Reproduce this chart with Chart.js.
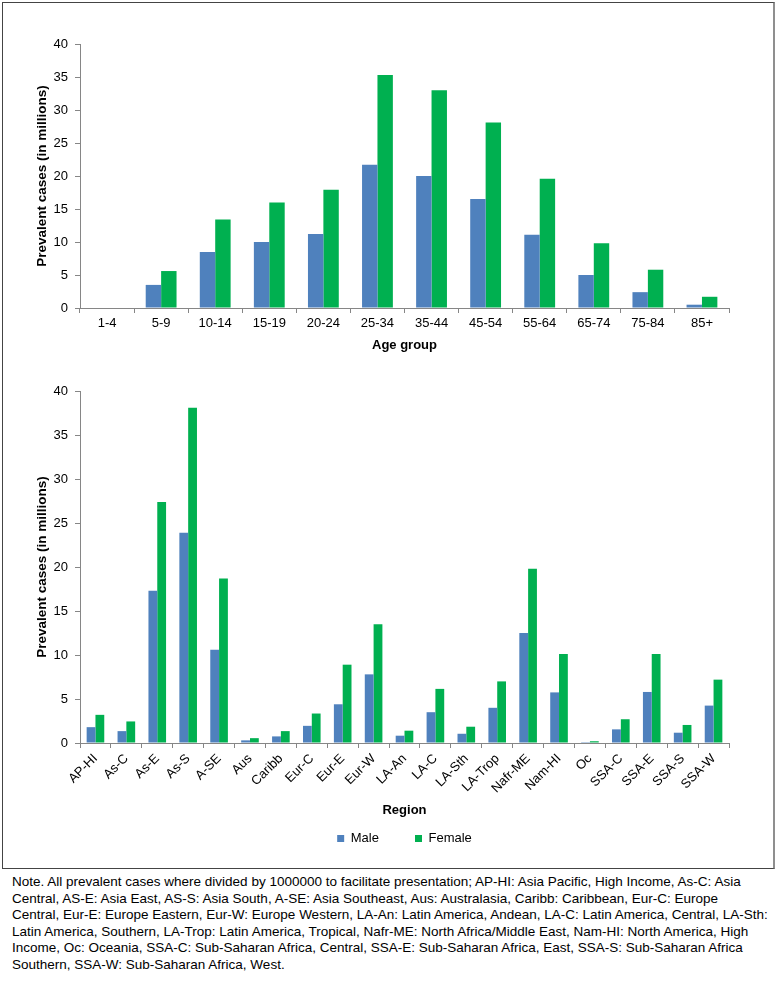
<!DOCTYPE html>
<html>
<head>
<meta charset="utf-8">
<script src="https://cdn.jsdelivr.net/npm/chart.js@4.4.0/dist/chart.umd.min.js"></script>
<style>
  body { margin: 0; background: #fff; width: 778px; height: 990px; position: relative; overflow: hidden;
         font-family: "Liberation Sans", Arial, sans-serif; }
  #frame { position: absolute; left: 2px; top: 2px; width: 770px; height: 865px;
           border: 1px solid #444; border-right: 2px solid #8f8f8f; }
  #ageChart { position: absolute; left: 0; top: 0; }
  #regionChart { position: absolute; left: 0; top: 360px; }
  #note { position: absolute; left: 12px; top: 874px; font-size: 13.5px; line-height: 16.6px;
          color: #000; white-space: nowrap; }
</style>
</head>
<body>
<div id="frame"></div>
<canvas id="ageChart" width="778" height="360"></canvas>
<canvas id="regionChart" width="778" height="508"></canvas>
<div id="note">
Note. All prevalent cases where divided by 1000000 to facilitate presentation; AP-HI: Asia Pacific, High Income, As-C: Asia<br>
Central, AS-E: Asia East, AS-S: Asia South, A-SE: Asia Southeast, Aus: Australasia, Caribb: Caribbean, Eur-C: Europe<br>
Central, Eur-E: Europe Eastern, Eur-W: Europe Western, LA-An: Latin America, Andean, LA-C: Latin America, Central, LA-Sth:<br>
Latin America, Southern, LA-Trop: Latin America, Tropical, Nafr-ME: North Africa/Middle East, Nam-HI: North America, High<br>
Income, Oc: Oceania, SSA-C: Sub-Saharan Africa, Central, SSA-E: Sub-Saharan Africa, East, SSA-S: Sub-Saharan Africa<br>
Southern, SSA-W: Sub-Saharan Africa, West.
</div>
<script>
// prevalent cases in millions
const ageGroups = ['1-4', '5-9', '10-14', '15-19', '20-24', '25-34', '35-44', '45-54', '55-64', '65-74', '75-84', '85+'];
const maleAge = [0, 3.5, 8.5, 10.0, 11.2, 21.7, 20.0, 16.5, 11.1, 5.0, 2.4, 0.5];
const femaleAge = [0, 5.6, 13.4, 16.0, 17.9, 35.3, 33.0, 28.1, 19.6, 9.8, 5.8, 1.7];

const regions = ['AP-HI', 'As-C', 'As-E', 'As-S', 'A-SE', 'Aus', 'Caribb', 'Eur-C', 'Eur-E', 'Eur-W', 'LA-An',
  'LA-C', 'LA-Sth', 'LA-Trop', 'Nafr-ME', 'Nam-HI', 'Oc', 'SSA-C', 'SSA-E', 'SSA-S', 'SSA-W'];
const maleRegion = [1.8, 1.35, 17.3, 23.9, 10.6, 0.3, 0.75, 1.95, 4.4, 7.8, 0.83, 3.5, 1.05, 4.0, 12.5, 5.75, 0.1, 1.55, 5.8, 1.17, 4.25];
const femaleRegion = [3.2, 2.45, 27.4, 38.1, 18.7, 0.55, 1.35, 3.35, 8.9, 13.5, 1.4, 6.15, 1.85, 7.0, 19.8, 10.1, 0.2, 2.7, 10.1, 2.05, 7.2];

const yMax = 40, yStep = 5;
const blue = '#4f81bd', green = '#00b050', axisGrey = '#868686';

Chart.defaults.font.family = "'Liberation Sans', Arial, sans-serif";
Chart.defaults.font.size = 13;
Chart.defaults.color = '#000';
Chart.defaults.animation = false;

function fixWidth(w) {
  return scale => { scale.width = w; scale.paddingTop = 0; scale.paddingBottom = 0; };
}
function fixHeight(h) {
  return scale => { scale.height = h; scale.paddingLeft = 0; scale.paddingRight = 0; };
}

function yAxis() {
  return {
    min: 0, max: yMax,
    ticks: { stepSize: yStep, padding: 7 },
    border: { color: axisGrey },
    grid: { drawOnChartArea: false, tickLength: 5, color: axisGrey },
    title: { display: true, text: 'Prevalent cases (in millions)', font: { weight: 'bold', size: 13.5 }, padding: { top: 34, bottom: 0 } },
    afterFit: fixWidth(80)
  };
}

function xAxis(title, height, rotate, titlePad) {
  return {
    ticks: { padding: 3, autoSkip: false, minRotation: rotate, maxRotation: rotate },
    border: { color: axisGrey },
    grid: { drawOnChartArea: false, tickLength: 5, color: axisGrey, offset: true },
    title: { display: true, text: title, font: { weight: 'bold' }, padding: { top: 0, bottom: titlePad } },
    afterFit: fixHeight(height)
  };
}

function bars(male, female) {
  return [
    { label: 'Male', data: male, backgroundColor: blue, borderWidth: 0, categoryPercentage: 0.57, barPercentage: 1 },
    { label: 'Female', data: female, backgroundColor: green, borderWidth: 0, categoryPercentage: 0.57, barPercentage: 1 }
  ];
}

new Chart(document.getElementById('ageChart'), {
  type: 'bar',
  data: { labels: ageGroups, datasets: bars(maleAge, femaleAge) },
  options: {
    responsive: false,
    layout: { padding: { top: 44, left: 0, right: 49, bottom: 0 } },
    plugins: { legend: { display: false }, tooltip: { enabled: false } },
    scales: { x: xAxis('Age group', 52, 0, 7), y: yAxis() }
  }
});

new Chart(document.getElementById('regionChart'), {
  type: 'bar',
  data: { labels: regions, datasets: bars(maleRegion, femaleRegion) },
  options: {
    responsive: false,
    layout: { padding: { top: 31, left: 0, right: 49, bottom: 13 } },
    plugins: {
      tooltip: { enabled: false },
      legend: {
        position: 'bottom',
        fullSize: false,
        labels: {
          boxWidth: 7, boxHeight: 7, padding: 0, color: '#000',
          generateLabels: chart => {
            const items = Chart.defaults.plugins.legend.labels.generateLabels(chart);
            items[0].text += '          ';
            return items;
          }
        }
      }
    },
    scales: { x: xAxis('Region', 89, 45, 14), y: yAxis() }
  }
});
</script>
</body>
</html>
